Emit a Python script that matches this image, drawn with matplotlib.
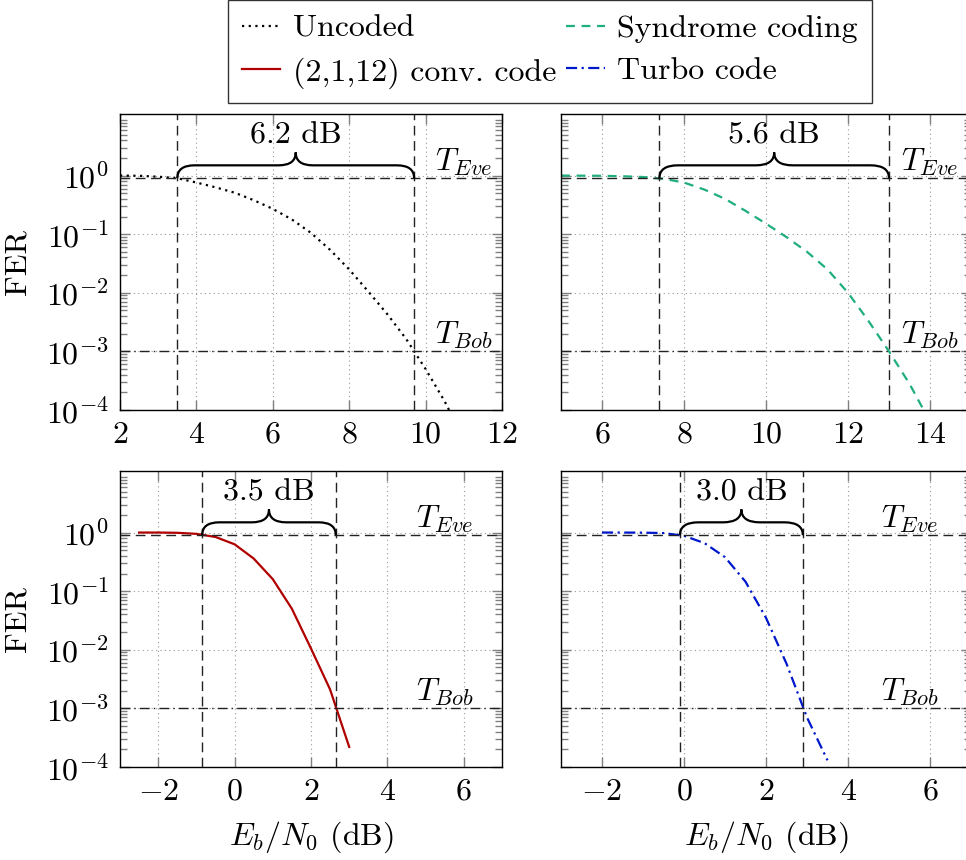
import matplotlib
matplotlib.use("Agg")
import matplotlib.pyplot as plt
import numpy as np
from matplotlib.path import Path
from matplotlib.ticker import FixedLocator, NullFormatter
import matplotlib.patches as patches

plt.rcParams["font.family"] = "serif"
plt.rcParams["font.serif"] = ["cmr10"]
plt.rcParams["mathtext.fontset"] = "cm"
plt.rcParams["axes.formatter.use_mathtext"] = True
plt.rcParams["axes.unicode_minus"] = True

# ---- data ----
uncoded_x = [2, 2.5, 3, 3.5, 4, 4.5, 5, 5.5, 6, 6.5, 7, 7.5, 8, 8.5, 9, 9.5, 10, 10.5, 11]
uncoded_fer = [1.0, 0.99, 0.955, 0.9, 0.76, 0.63, 0.51, 0.38, 0.27, 0.178, 0.105,
               0.054, 0.025, 0.0105, 4.3e-3, 1.6e-3, 5.0e-4, 1.4e-4, 3.2e-5]

syndrome_x = [5, 5.5, 6, 6.5, 7, 7.5, 8, 8.5, 9, 9.5, 10, 10.5, 11, 11.5, 12, 12.5, 13, 13.5, 14]
syndrome_fer = [1.0, 0.995, 0.99, 0.973, 0.944, 0.88, 0.76, 0.575, 0.40, 0.25, 0.151,
                0.089, 0.050, 0.025, 0.01, 3.3e-3, 1.0e-3, 2.8e-4, 6.3e-5]

conv_x = [-2.5, -2, -1.5, -1, -0.5, 0, 0.5, 1, 1.5, 2, 2.5, 3]
conv_fer = [1.0, 1.0, 0.99, 0.95, 0.84, 0.63, 0.36, 0.16, 0.05, 0.0105, 0.0021, 2.2e-4]

turbo_x = [-2, -1.5, -1, -0.5, 0, 0.5, 1, 1.5, 2, 2.5, 3, 3.5]
turbo_fer = [1.0, 1.0, 0.995, 0.98, 0.88, 0.66, 0.38, 0.145, 0.035, 5.8e-3, 7.0e-4, 1.3e-4]

t_eve = 0.9
t_bob = 1e-3

# vertical markers (left, right) and gap labels per panel
markers = [(3.5, 9.7), (7.4, 13.0), (-0.85, 2.65), (-0.1, 2.9)]
gap_labels = ["6.2 dB", "5.6 dB", "3.5 dB", "3.0 dB"]
xlims = [(2, 12), (5, 15), (-3, 7), (-3, 7)]
xticks = [[2, 4, 6, 8, 10, 12], [6, 8, 10, 12, 14], [-2, 0, 2, 4, 6], [-2, 0, 2, 4, 6]]
yticks = [1e0, 1e-1, 1e-2, 1e-3, 1e-4]
thr_label_x = [11, 14, 5.5, 5.5]

FS = 23

# ---- figure ----
W, H = 966, 860
fig = plt.figure(figsize=(W / 100, H / 100), dpi=100)


def px_axes(l, r, t, b):
    return fig.add_axes([l / W, 1 - b / H, (r - l) / W, (b - t) / H])


ax_tl = px_axes(120, 502, 114, 410)
ax_tr = px_axes(561, 971, 114, 410)
ax_bl = px_axes(120, 502, 471, 767)
ax_br = px_axes(561, 971, 471, 767)
axes = [ax_tl, ax_tr, ax_bl, ax_br]

l_unc, = ax_tl.plot(uncoded_x, uncoded_fer, color="black", linestyle=(0, (1, 2)), lw=1.6)
l_syn, = ax_tr.plot(syndrome_x, syndrome_fer, color="#1fae7f", linestyle=(0, (4, 3)), lw=1.6)
l_conv, = ax_bl.plot(conv_x, conv_fer, color="#b00000", lw=1.6)
l_tur, = ax_br.plot(turbo_x, turbo_fer, color="#0018cc", linestyle=(0, (5, 2, 1, 2)), lw=1.6)


def brace(ax, x1, x2, label):
    b = np.log10(t_eve)
    h1 = b + 0.22
    h2 = b + 0.44
    m = 0.5 * (x1 + x2)
    lo, hi = ax.get_xlim()
    d = 0.045 * (hi - lo)
    verts = [(x1, b), (x1, h1), (x1 + d, h1), (m - d, h1), (m, h1), (m, h2),
             (m, h1), (m + d, h1), (x2 - d, h1), (x2, h1), (x2, b)]
    codes = [Path.MOVETO, Path.CURVE3, Path.CURVE3, Path.LINETO, Path.CURVE3, Path.CURVE3,
             Path.CURVE3, Path.CURVE3, Path.LINETO, Path.CURVE3, Path.CURVE3]
    verts = [(vx, 10 ** vy) for vx, vy in verts]
    ax.add_patch(patches.PathPatch(Path(verts, codes), fill=False, lw=1.6,
                                   edgecolor="black", zorder=5))
    ax.text(m, 10 ** (b + 0.6), label, ha="center", va="baseline", fontsize=FS)


# minor tick positions 2..9 x 10^k
minor_y = [s * 10.0 ** k for k in range(-4, 1) for s in range(2, 10)]

for i, ax in enumerate(axes):
    ax.set_yscale("log")
    ax.set_xlim(*xlims[i])
    ax.set_ylim(1e-4, 10 ** 1.05)
    ax.set_xticks(xticks[i])
    ax.set_yticks(yticks)
    ax.yaxis.set_minor_locator(FixedLocator(minor_y))
    ax.yaxis.set_minor_formatter(NullFormatter())
    ax.grid(True, which="major", linestyle=(0, (1, 3)), color="#999999", lw=0.8)
    ax.tick_params(which="both", direction="in", top=True, right=True,
                   color="#808080", labelsize=FS, pad=8)
    ax.tick_params(which="major", length=7, width=1.0)
    ax.tick_params(which="minor", length=5, width=1.0, left=True, right=True)
    for s in ax.spines.values():
        s.set_linewidth(1.0)
    if i in (1, 3):
        ax.tick_params(labelleft=False)
    else:
        ax.set_ylabel("FER", fontsize=FS, labelpad=10)
    if i in (2, 3):
        ax.set_xlabel(r"$E_b/N_0$ (dB)", fontsize=FS, labelpad=10)

    xa, xb = markers[i]
    for xv in (xa, xb):
        ax.axvline(xv, color="#222222", linestyle=(0, (7, 4)), lw=1.0, zorder=3)
    ax.axhline(t_eve, color="#222222", linestyle=(0, (7, 4)), lw=1.0, zorder=3)
    ax.axhline(t_bob, color="#222222", linestyle=(0, (7, 3, 1, 3)), lw=1.0, zorder=3)
    ax.text(thr_label_x[i], t_eve, r"$T_{Eve}$", ha="center", va="bottom", fontsize=FS)
    ax.text(thr_label_x[i], t_bob, r"$T_{Bob}$", ha="center", va="bottom", fontsize=FS)
    brace(ax, xa, xb, gap_labels[i])

leg = fig.legend([l_unc, l_conv, l_syn, l_tur],
                 ["Uncoded", "(2,1,12) conv. code", "Syndrome coding", "Turbo code"],
                 ncol=2, loc="upper center", bbox_to_anchor=(550 / W, 1.0),
                 fontsize=FS, frameon=True, fancybox=False, edgecolor="black",
                 handlelength=1.2, handletextpad=0.4, columnspacing=0.3,
                 borderpad=0.45, labelspacing=0.45, borderaxespad=0.0)
leg.get_frame().set_linewidth(1.0)

fig.savefig("out.png", dpi=100)
